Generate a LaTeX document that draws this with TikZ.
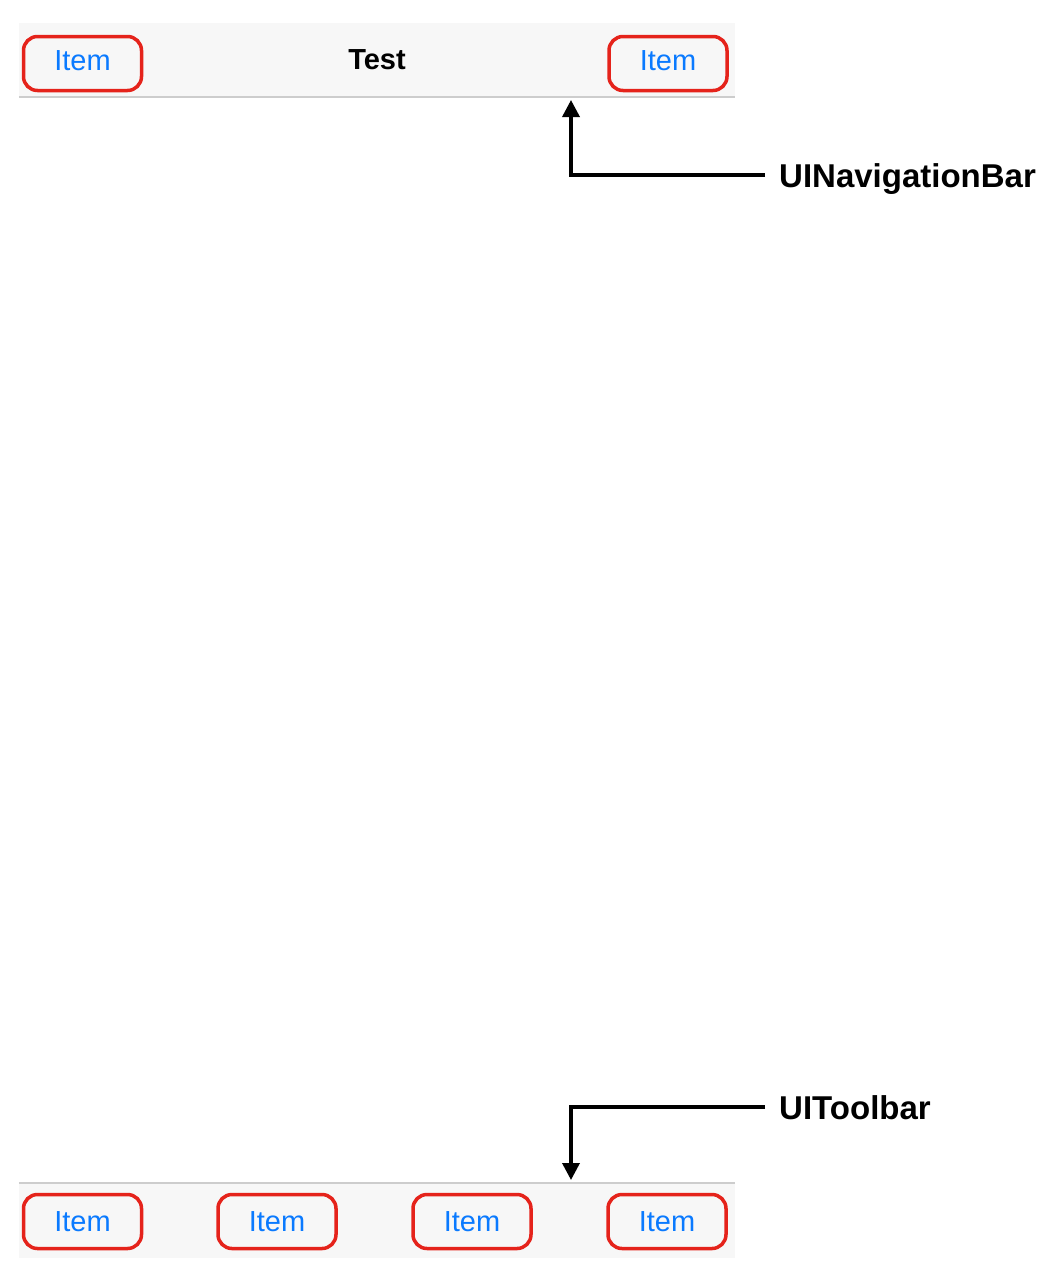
\documentclass[tikz,border=0pt]{standalone}
\usepackage{fontspec}
\setmainfont{Liberation Sans}
\usetikzlibrary{arrows.meta}
\definecolor{itemblue}{HTML}{0A7AFF}
\definecolor{boxred}{HTML}{E5231B}
\definecolor{barfill}{HTML}{F7F7F7}
\definecolor{barline}{HTML}{CDCDCD}

\begin{document}
\begin{tikzpicture}[x=1pt,y=-1pt,
  bar/.style={fill=barfill,minimum width=716pt,minimum height=74pt,inner sep=0pt},
  item/.style={draw=boxred,line width=3.5pt,rounded corners=14pt,minimum width=118pt,
    minimum height=54pt,text=itemblue,font=\fontsize{29}{34}\selectfont},
  navitem/.style={item,text height=21pt,text depth=7pt},
  callout/.style={line width=3.5pt,-{Triangle[width=17pt,length=17pt]}},
  lbl/.style={anchor=base west,inner sep=0pt,font=\fontsize{33}{38}\selectfont\bfseries}]
          \useasboundingbox (0,0) rectangle (1059,1278);

          \node[bar] (navbar) at (377,60) {};
          \draw[barline,line width=1.5pt] (navbar.south west) -- (navbar.south east);
          \node[navitem] (navleft) at (82.5,63.5) {Item};
          \node[navitem] (navright) at (668,63.5) {Item};
          \node[font=\fontsize{29}{34}\selectfont\bfseries] (title) at (377,60) {Test};

          \node[bar,minimum height=75pt] (toolbar) at (377,1220.5) {};
          \draw[barline,line width=1.5pt] (toolbar.north west) -- (toolbar.north east);
          \foreach \x [count=\i] in {82.5,277,472,667}
            \node[item] (tool\i) at (\x,1221.5) {Item};

          \node[lbl] (navlbl) at (779,187) {UINavigationBar};
          \node[lbl] (toollbl) at (779,1119) {UIToolbar};
          \coordinate (navtip) at (571,100);
          \coordinate (tooltip) at (571,1180);

          \draw[callout] ([xshift=-14pt,yshift=12pt]navlbl.base west) -| (navtip);
          \draw[callout] ([xshift=-14pt,yshift=12pt]toollbl.base west) -| (tooltip);

\end{tikzpicture}
\end{document}
